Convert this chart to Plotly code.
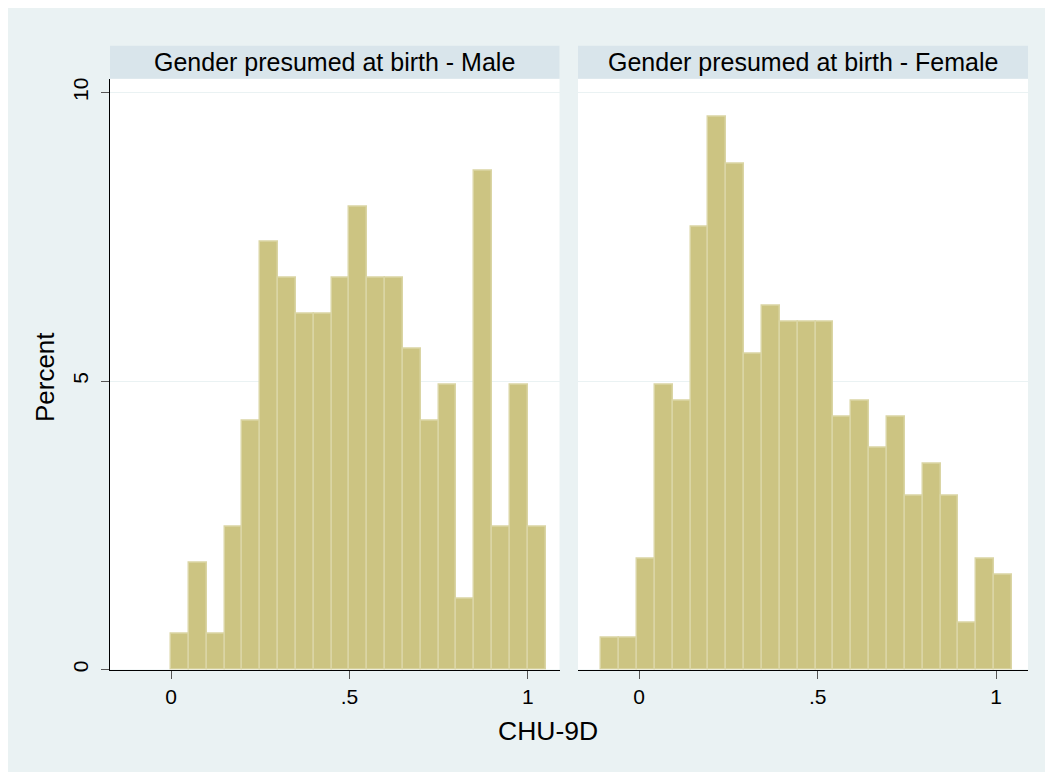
import plotly.graph_objects as go

# ---- data (percent per bin) ----
bin_width = 0.05
male_start = 0.0
male_pct = [0.62, 1.85, 0.62, 2.47, 4.32, 7.41, 6.79, 6.17, 6.17, 6.79, 8.02,
            6.79, 6.79, 5.56, 4.32, 4.94, 1.23, 8.64, 2.47, 4.94, 2.47]
female_start = -0.106
female_pct = [0.55, 0.55, 1.92, 4.93, 4.66, 7.67, 9.59, 8.77, 5.48, 6.30, 6.03,
              6.03, 6.03, 4.38, 4.66, 3.84, 4.38, 3.01, 3.56, 3.01, 0.82, 1.92, 1.64]
panel_titles = ["Gender presumed at birth - Male", "Gender presumed at birth - Female"]
x_tickvals = [0, 0.5, 1]
x_ticktext = ["0", ".5", "1"]
y_tickvals = [0, 5, 10]
y_ticktext = ["0", "5", "10"]
x_title = "CHU-9D"
y_title = "Percent"

# ---- styling ----
OX, OY = 8, 8            # page body margin
W, H = 1045, 764         # figure size
BG = "#EAF2F3"
STRIP = "#D9E5EB"
BAR = "#CCC482"
BAR_LINE = "#DAD5A4"
FONT = "Liberation Sans, Arial, sans-serif"

def px_x(p):
    return (p - OX) / W

def px_y(p):
    return 1 - (p - OY) / H

fig = go.Figure()

for i, (start, pct) in enumerate([(male_start, male_pct), (female_start, female_pct)]):
    lefts = [start + k * bin_width for k in range(len(pct))]
    fig.add_trace(go.Bar(
        x=lefts, y=pct, width=bin_width, offset=0,
        marker=dict(color=BAR, line=dict(color=BAR_LINE, width=1.5)),
        xaxis="x" if i == 0 else "x2", yaxis="y" if i == 0 else "y2",
        showlegend=False, hoverinfo="skip",
    ))

panels = [(110, 559.5), (578, 1028)]
plot_top, plot_bot = 78, 672
y_dom = [px_y(plot_bot), px_y(plot_top)]
x_range = [-0.171, 1.089]
y_range = [0, 10.24]

xaxis_common = dict(
    range=x_range, showline=True, linecolor="black", linewidth=1.3,
    ticks="outside", ticklen=8, tickcolor="#555555", tickwidth=1.3,
    tickvals=x_tickvals, ticktext=x_ticktext, showgrid=False, zeroline=False,
    tickfont=dict(family=FONT, size=21, color="black"), fixedrange=True,
)
yaxis_common = dict(
    range=y_range, domain=y_dom, showgrid=True, gridcolor=BG, gridwidth=1.3,
    zeroline=False, tickvals=y_tickvals, fixedrange=True,
)

fig.update_layout(
    width=W, height=H,
    margin=dict(l=0, r=0, t=0, b=0),
    paper_bgcolor=BG, plot_bgcolor="white",
    bargap=0, barmode="overlay",
    xaxis=dict(domain=[px_x(panels[0][0]), px_x(panels[0][1])], anchor="y", **xaxis_common),
    xaxis2=dict(domain=[px_x(panels[1][0]), px_x(panels[1][1])], anchor="y2", **xaxis_common),
    yaxis=dict(anchor="x", showline=True, linecolor="black", linewidth=1.3,
               ticks="outside", ticklen=8, tickcolor="#555555", tickwidth=1.3,
               ticktext=y_ticktext, tickangle=-90, ticklabelstandoff=4,
               tickfont=dict(family=FONT, size=21, color="black"), **yaxis_common),
    yaxis2=dict(anchor="x2", showline=False, showticklabels=False, ticks="",
                **yaxis_common),
    font=dict(family=FONT, color="black"),
)

shapes = []
annotations = []
for (x0, x1), title in zip(panels, panel_titles):
    shapes.append(dict(type="rect", xref="paper", yref="paper",
                       x0=px_x(x0), x1=px_x(x1), y0=px_y(78), y1=px_y(45),
                       fillcolor=STRIP, line=dict(width=0), layer="below"))
    annotations.append(dict(text=title, xref="paper", yref="paper",
                            x=px_x((x0 + x1) / 2), y=px_y(61.5), showarrow=False,
                            xanchor="center", yanchor="middle",
                            font=dict(family=FONT, size=25, color="black")))

annotations.append(dict(text=x_title, xref="paper", yref="paper",
                        x=px_x(548), y=px_y(734), showarrow=False,
                        xanchor="center", yanchor="middle",
                        font=dict(family=FONT, size=26.5, color="black")))
annotations.append(dict(text=y_title, xref="paper", yref="paper",
                        x=px_x(45), y=px_y(378), showarrow=False, textangle=-90,
                        xanchor="center", yanchor="middle",
                        font=dict(family=FONT, size=26, color="black")))

fig.update_layout(shapes=shapes, annotations=annotations)
fig.write_html("out.html")
